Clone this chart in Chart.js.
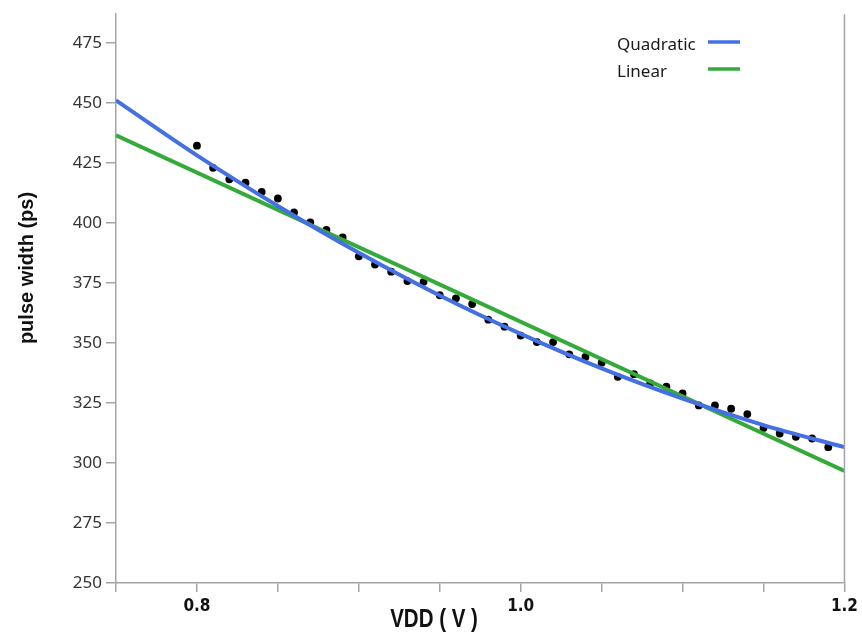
<!DOCTYPE html>
<html>
<head>
<meta charset="utf-8">
<script src="https://cdn.jsdelivr.net/npm/chart.js@4/dist/chart.umd.min.js"></script>
<style>
  html, body { margin: 0; padding: 0; background: #fff; }
</style>
</head>
<body>
<canvas id="myChart" width="862" height="635"></canvas>
<script>
// measured pulse width vs supply voltage
const vdd = [0.80, 0.81, 0.82, 0.83, 0.84, 0.85, 0.86, 0.87, 0.88, 0.89,
             0.90, 0.91, 0.92, 0.93, 0.94, 0.95, 0.96, 0.97, 0.98, 0.99,
             1.00, 1.01, 1.02, 1.03, 1.04, 1.05, 1.06, 1.07, 1.08, 1.09,
             1.10, 1.11, 1.12, 1.13, 1.14, 1.15, 1.16, 1.17, 1.18, 1.19]
const pulseWidth = [432.2, 423.0, 418.2, 416.8, 413.0, 410.2, 404.4, 400.3, 397.1, 394.0,
                    386.1, 382.7, 379.7, 375.8, 375.5, 369.9, 368.6, 366.2, 359.7, 356.8,
                    353.1, 350.4, 350.4, 345.3, 344.2, 341.8, 335.9, 337.0, 333.2, 331.8,
                    329.0, 324.0, 324.0, 322.6, 320.4, 314.6, 312.3, 310.9, 310.2, 306.6]

// fitted curves
const fitVdd = [0.75, 0.80, 0.85, 0.90, 0.95, 1.00, 1.05, 1.10, 1.15, 1.20]
const quadFit = [451.1, 428.2, 407.1, 387.6, 369.8, 353.8, 339.4, 326.8, 315.8, 306.6]
const linVdd = [0.75, 1.20]
const linFit = [436.5, 296.7]

const xLabels = [0.8, 1.0, 1.2]

const blue = 'rgb(68, 112, 228)'
const green = 'rgb(52, 170, 58)'
const axisGrey = '#a4a4a4'

const toPoints = (xs, ys) => xs.map((x, i) => ({ x: x, y: ys[i] }))

// right frame edge, axis titles and the legend in the top right corner
const decorations = {
  id: 'decorations',
  afterDraw(chart) {
    const { ctx, chartArea } = chart
    ctx.save()

    ctx.strokeStyle = axisGrey
    ctx.lineWidth = 1.5
    ctx.beginPath()
    ctx.moveTo(chartArea.right, chartArea.top)
    ctx.lineTo(chartArea.right, chartArea.bottom)
    ctx.stroke()

    ctx.fillStyle = '#111'
    ctx.textAlign = 'center'
    ctx.textBaseline = 'middle'

    // narrow bold title: squeeze a regular bold face sideways
    ctx.save()
    ctx.translate(434, 620)
    ctx.scale(0.82, 1)
    ctx.font = 'bold 25px "Liberation Sans", Arial, sans-serif'
    ctx.fillText('VDD ( V )', 0, 0)
    ctx.restore()

    ctx.save()
    ctx.translate(27, 268)
    ctx.rotate(-Math.PI / 2)
    ctx.font = 'bold 20px "Liberation Sans", Arial, sans-serif'
    ctx.fillText('pulse width (ps)', 0, 0)
    ctx.restore()

    ctx.textAlign = 'left'
    ctx.font = '17px "Noto Sans", "Open Sans", sans-serif'
    const rows = chart.data.datasets.filter((d) => d.showLine)
    rows.forEach((d, i) => {
      const y = 44 + i * 27
      ctx.fillStyle = '#1a1a1a'
      ctx.fillText(d.label, 617, y + 1)
      ctx.strokeStyle = d.borderColor
      ctx.lineWidth = 3.5
      ctx.beginPath()
      ctx.moveTo(708, y - 2)
      ctx.lineTo(740, y - 2)
      ctx.stroke()
    })
    ctx.restore()
  }
}

const config = {
  type: 'scatter',
  data: {
    datasets: [
      {
        label: 'Quadratic',
        data: toPoints(fitVdd, quadFit),
        showLine: true,
        borderColor: blue,
        borderWidth: 4,
        pointRadius: 0,
        cubicInterpolationMode: 'monotone',
        order: 0
      },
      {
        label: 'Linear',
        data: toPoints(linVdd, linFit),
        showLine: true,
        borderColor: green,
        borderWidth: 4,
        pointRadius: 0,
        order: 1
      },
      {
        label: 'measured',
        data: toPoints(vdd, pulseWidth),
        backgroundColor: '#000',
        borderColor: '#000',
        pointRadius: 3.9,
        borderWidth: 0,
        order: 2
      }
    ]
  },
  options: {
    responsive: false,
    animation: false,
    devicePixelRatio: 1,
    layout: { padding: { top: 9, right: 17, left: 0, bottom: 0 } },
    scales: {
      x: {
        type: 'linear',
        min: 0.75,
        max: 1.2,
        afterFit: (s) => { s.height = 52 },
        border: { color: axisGrey, width: 1.5 },
        grid: { drawOnChartArea: false, tickLength: 9, color: axisGrey, lineWidth: 1.5 },
        ticks: {
          stepSize: 0.05,
          autoSkip: false,
          maxRotation: 0,
          padding: 4,
          color: '#111',
          font: { family: '"DejaVu Sans Condensed", sans-serif', size: 17, weight: 'bold' },
          callback: (v) => {
            const r = Math.round(v * 100) / 100
            return xLabels.includes(r) ? r.toFixed(1) : ''
          }
        }
      },
      y: {
        min: 250,
        max: 487,
        afterFit: (s) => { s.width = 116 },
        border: { color: axisGrey, width: 1.5 },
        grid: { drawOnChartArea: false, tickLength: 10, color: axisGrey, lineWidth: 1.5 },
        ticks: {
          stepSize: 25,
          includeBounds: false,
          padding: 4,
          color: '#333',
          font: { family: '"Noto Sans", "Open Sans", sans-serif', size: 17 }
        }
      }
    },
    plugins: {
      legend: { display: false },
      tooltip: { enabled: false }
    }
  },
  plugins: [decorations]
}

const myChart = new Chart(document.getElementById('myChart'), config)
</script>
</body>
</html>
